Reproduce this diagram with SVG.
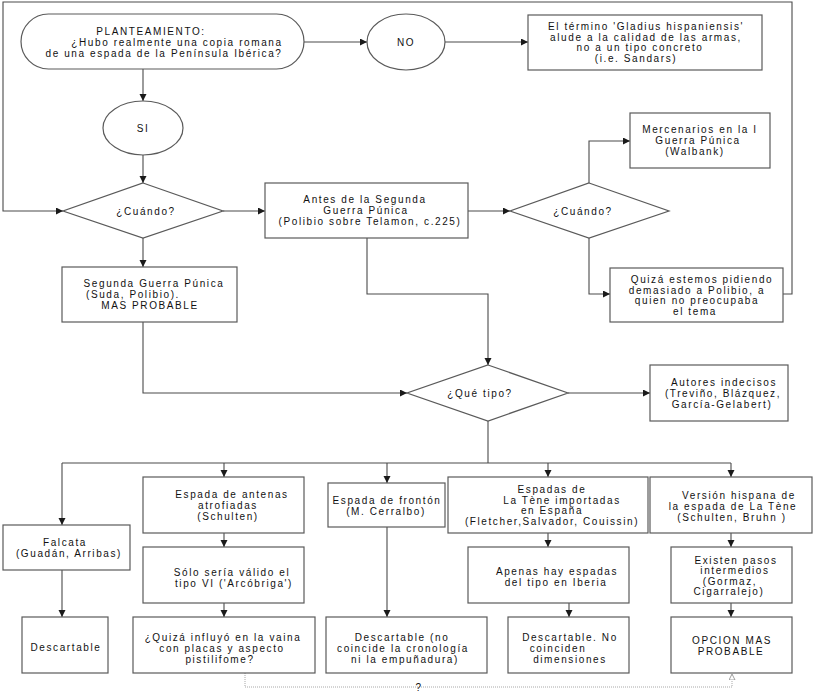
<svg xmlns="http://www.w3.org/2000/svg" width="813" height="692" viewBox="0 0 813 692">
<style>
.bg{fill:#ffffff}
.box{fill:#ffffff;stroke:#5a5a5a;stroke-width:1.2}
.c{fill:none;stroke:#4a4a4a;stroke-width:1.1}
.dot{fill:none;stroke:#a8a8a8;stroke-width:1;stroke-dasharray:1 1}
text{font-family:"Liberation Sans",Arial,sans-serif;font-size:10px;letter-spacing:1.6px;fill:#111;text-anchor:middle}
</style>
<defs>
<marker id="ah" markerUnits="userSpaceOnUse" markerWidth="8" markerHeight="8" refX="7" refY="3.5" orient="auto">
<path d="M0,0 L7,3.5 L0,7 z" fill="#1a1a1a"/>
</marker>
<marker id="oh" markerUnits="userSpaceOnUse" markerWidth="8" markerHeight="8" refX="6" refY="3" orient="auto">
<path d="M0,0 L6,3 L0,6 z" fill="#fff" stroke="#888" stroke-width="0.8"/>
</marker>
</defs>
<rect class="bg" x="0" y="0" width="813" height="692"/>

<g id="connectors">
<path class="c" d="M304,42 H367" marker-end="url(#ah)"/>
<path class="c" d="M445,42 H528" marker-end="url(#ah)"/>
<path class="c" d="M143,69 V101" marker-end="url(#ah)"/>
<path class="c" d="M143,155 V183" marker-end="url(#ah)"/>
<path class="c" d="M783,294 H792 V2 H3 V211 H63" marker-end="url(#ah)"/>
<path class="c" d="M223,211 H265" marker-end="url(#ah)"/>
<path class="c" d="M143,238 V267" marker-end="url(#ah)"/>
<path class="c" d="M468,211 H510" marker-end="url(#ah)"/>
<path class="c" d="M589,183 V141 H630" marker-end="url(#ah)"/>
<path class="c" d="M589,238 V294 H610" marker-end="url(#ah)"/>
<path class="c" d="M367,238 V294 H488 V365" marker-end="url(#ah)"/>
<path class="c" d="M143,322 V393 H407" marker-end="url(#ah)"/>
<path class="c" d="M568,393 H650" marker-end="url(#ah)"/>
<path class="c" d="M488,421 V463"/>
<path class="c" d="M62,463 H731"/>
<path class="c" d="M62,463 V525" marker-end="url(#ah)"/>
<path class="c" d="M224,463 V477" marker-end="url(#ah)"/>
<path class="c" d="M387,463 V483" marker-end="url(#ah)"/>
<path class="c" d="M548,463 V477" marker-end="url(#ah)"/>
<path class="c" d="M731,463 V477" marker-end="url(#ah)"/>
<path class="c" d="M62,570 V617" marker-end="url(#ah)"/>
<path class="c" d="M224,533 V547" marker-end="url(#ah)"/>
<path class="c" d="M224,603 V617" marker-end="url(#ah)"/>
<path class="c" d="M387,527 V617" marker-end="url(#ah)"/>
<path class="c" d="M548,533 V547" marker-end="url(#ah)"/>
<path class="c" d="M569,603 V617" marker-end="url(#ah)"/>
<path class="c" d="M731,533 V547" marker-end="url(#ah)"/>
<path class="c" d="M731,603 V617" marker-end="url(#ah)"/>
<path class="dot" d="M245,673 V687 H732 V674" marker-end="url(#oh)"/>
<text x="419" y="691">?</text>
</g>

<g id="planteamiento">
<rect class="box" x="21" y="14" width="283" height="55" rx="27.5"/>
<text x="151" y="35">PLANTEAMIENTO:</text>
<text x="177" y="46">¿Hubo realmente una copia romana</text>
<text x="164" y="57">de una espada de la Península Ibérica?</text>
</g>
<g id="no">
<ellipse class="box" cx="406" cy="42" rx="39" ry="28"/>
<text x="406" y="46">NO</text>
</g>
<g id="termino">
<rect class="box" x="528" y="15" width="234" height="55"/>
<text x="646" y="30">El término 'Gladius hispaniensis'</text>
<text x="646" y="40.5">alude a la calidad de las armas,</text>
<text x="640" y="51">no a un tipo concreto</text>
<text x="636" y="61.5">(i.e. Sandars)</text>
</g>
<g id="si">
<ellipse class="box" cx="143" cy="128" rx="40" ry="27"/>
<text x="143" y="131.5">SI</text>
</g>
<g id="cuando1">
<polygon class="box" points="143,183 223,211 143,238 63,211"/>
<text x="146" y="214.5">¿Cuándo?</text>
</g>
<g id="antes">
<rect class="box" x="265" y="183" width="203" height="55"/>
<text x="365" y="203">Antes de la Segunda</text>
<text x="366" y="214">Guerra Púnica</text>
<text x="370" y="225">(Polibio sobre Telamon, c.225)</text>
</g>
<g id="segunda">
<rect class="box" x="62" y="267" width="175" height="55"/>
<text x="154" y="287">Segunda Guerra Púnica</text>
<text x="133" y="298">(Suda, Polibio).</text>
<text x="150" y="309">MAS PROBABLE</text>
</g>
<g id="cuando2">
<polygon class="box" points="589,183 669,211 589,238 510,211"/>
<text x="583" y="214.5">¿Cuándo?</text>
</g>
<g id="mercenarios">
<rect class="box" x="630" y="113" width="140" height="55"/>
<text x="700" y="133">Mercenarios en la I</text>
<text x="698" y="144">Guerra Púnica</text>
<text x="695" y="155">(Walbank)</text>
</g>
<g id="quiza">
<rect class="box" x="610" y="268" width="173" height="54"/>
<text x="702" y="283">Quizá estemos pidiendo</text>
<text x="697" y="294">demasiado a Polibio, a</text>
<text x="697" y="304">quien no preocupaba</text>
<text x="695" y="315">el tema</text>
</g>
<g id="quetipo">
<polygon class="box" points="488,365 568,393 488,421 407,393"/>
<text x="480" y="396.5">¿Qué tipo?</text>
</g>
<g id="autores">
<rect class="box" x="650" y="365" width="138" height="56"/>
<text x="724" y="385.5">Autores indecisos</text>
<text x="723" y="396.5">(Treviño, Blázquez,</text>
<text x="722" y="407.5">García-Gelabert)</text>
</g>
<g id="falcata">
<rect class="box" x="3" y="525" width="127" height="45"/>
<text x="65" y="546">Falcata</text>
<text x="69" y="557">(Guadán, Arribas)</text>
</g>
<g id="antenas">
<rect class="box" x="143" y="477" width="161" height="56"/>
<text x="232" y="497.5">Espada de antenas</text>
<text x="228" y="508.5">atrofiadas</text>
<text x="228" y="519.5">(Schulten)</text>
</g>
<g id="fronton">
<rect class="box" x="328" y="483" width="117" height="44"/>
<text x="387" y="503.5">Espada de frontón</text>
<text x="386" y="514.5">(M. Cerralbo)</text>
</g>
<g id="latene">
<rect class="box" x="448" y="477" width="200" height="56"/>
<text x="552" y="493">Espadas de</text>
<text x="562" y="504">La Tène importadas</text>
<text x="552" y="514">en España</text>
<text x="552" y="525">(Fletcher,Salvador, Couissin)</text>
</g>
<g id="version">
<rect class="box" x="650" y="477" width="162" height="56"/>
<text x="739" y="499">Versión hispana de</text>
<text x="733" y="510">la espada de La Tène</text>
<text x="732" y="521">(Schulten,  Bruhn )</text>
</g>
<g id="solo">
<rect class="box" x="143" y="547" width="161" height="56"/>
<text x="232" y="575.5">Sólo sería válido el</text>
<text x="234" y="586.5">tipo VI ('Arcóbriga')</text>
</g>
<g id="apenas">
<rect class="box" x="468" y="547" width="161" height="56"/>
<text x="557" y="575">Apenas hay espadas</text>
<text x="556" y="586">del tipo en Iberia</text>
</g>
<g id="existen">
<rect class="box" x="671" y="547" width="121" height="56"/>
<text x="736" y="564">Existen pasos</text>
<text x="735" y="574">intermedios</text>
<text x="730" y="585">(Gormaz,</text>
<text x="729" y="595">Cigarralejo)</text>
</g>
<g id="descartable1">
<rect class="box" x="22" y="617" width="86" height="56"/>
<text x="66" y="650.5">Descartable</text>
</g>
<g id="influyo">
<rect class="box" x="133" y="617" width="182" height="56"/>
<text x="223" y="640.5">¿Quizá influyó en la vaina</text>
<text x="222" y="651.5">con placas y aspecto</text>
<text x="220" y="662.5">pistilifome?</text>
</g>
<g id="descartable2">
<rect class="box" x="326" y="617" width="161" height="56"/>
<text x="402" y="640.5">Descartable (no</text>
<text x="403" y="651.5">coincide la  cronología</text>
<text x="405" y="662.5">ni la empuñadura)</text>
</g>
<g id="descartable3">
<rect class="box" x="508" y="617" width="121" height="56"/>
<text x="570" y="640.5">Descartable. No</text>
<text x="558" y="651.5">coinciden</text>
<text x="570" y="662.5">dimensiones</text>
</g>
<g id="opcion">
<rect class="box" x="671" y="617" width="121" height="56"/>
<text x="732" y="643.5">OPCION MAS</text>
<text x="731" y="654.5">PROBABLE</text>
</g>
</svg>
